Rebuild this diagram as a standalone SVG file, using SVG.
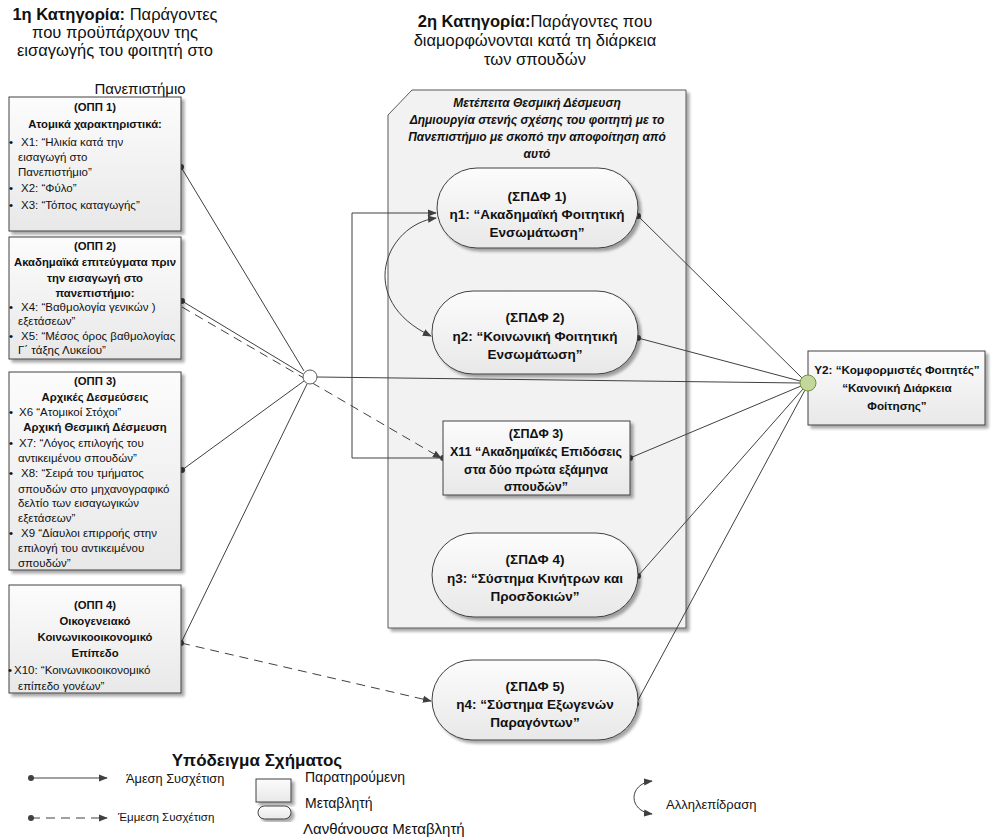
<svg xmlns="http://www.w3.org/2000/svg" width="992" height="838" viewBox="0 0 992 838">
<defs>
  <linearGradient id="nodeFill" x1="0" y1="0" x2="0" y2="1">
    <stop offset="0" stop-color="#fcfcfc"/>
    <stop offset="1" stop-color="#e8e8e8"/>
  </linearGradient>
  <filter id="shadow" x="-10%" y="-10%" width="130%" height="130%">
    <feGaussianBlur in="SourceAlpha" stdDeviation="1.5" result="blur"/>
    <feOffset in="blur" dx="2.5" dy="2.5" result="off"/>
    <feComponentTransfer in="off" result="sh"><feFuncA type="linear" slope="0.35"/></feComponentTransfer>
    <feMerge><feMergeNode in="sh"/><feMergeNode in="SourceGraphic"/></feMerge>
  </filter>
  <marker id="arrow" viewBox="0 0 10 10" refX="9" refY="5" markerWidth="9" markerHeight="9" markerUnits="userSpaceOnUse" orient="auto-start-reverse">
    <path d="M0,1 L10,5 L0,9 z" fill="#404040"/>
  </marker>
  <marker id="dot" viewBox="0 0 6 6" refX="3" refY="3" markerWidth="6" markerHeight="6" markerUnits="userSpaceOnUse">
    <circle cx="3" cy="3" r="3" fill="#404040"/>
  </marker>
  <style>
    .box{fill:url(#nodeFill);stroke:#404040;stroke-width:1;filter:url(#shadow)}
    .t{font-family:"Liberation Sans",Arial,sans-serif;fill:#111}
    .s11{font-size:11.5px}
    .s11 .b,.s11.b{font-size:11.3px}
    .s13{font-size:13.5px}
    .s16{font-size:16.5px}
    .b{font-weight:bold}
    .i{font-style:italic}
    .c{text-anchor:middle}
    .ln{stroke:#404040;stroke-width:1;fill:none}
    .dash{stroke-dasharray:9 6}
  </style>
</defs>

<!-- category headings -->
<g id="heading1" class="t s16">
  <text x="115" y="20" class="c"><tspan class="b">1η Κατηγορία:</tspan> Παράγοντες</text>
  <text x="115" y="38" class="c">που προϋπάρχουν της</text>
  <text x="115" y="56" class="c">εισαγωγής του φοιτητή στο</text>
  <text x="140" y="94" class="c" style="font-size:15px">Πανεπιστήμιο</text>
</g>
<g id="heading2" class="t s16">
  <text x="535" y="27" class="c"><tspan class="b">2η Κατηγορία:</tspan>Παράγοντες που</text>
  <text x="535" y="46" class="c">διαμορφώνονται κατά τη διάρκεια</text>
  <text x="535" y="65" class="c">των σπουδών</text>
</g>

<!-- container for the second category -->
<g id="container">
  <polygon points="412,90 686,90 686,628 388,628 388,115" fill="#f2f2f2" stroke="#595959" stroke-width="1" filter="url(#shadow)"/>
  <g class="t b i c" style="font-size:12px">
    <text x="537" y="107">Μετέπειτα Θεσμική Δέσμευση</text>
    <text x="537" y="124">Δημιουργία στενής σχέσης του φοιτητή με το</text>
    <text x="537" y="141">Πανεπιστήμιο με σκοπό την αποφοίτηση από</text>
    <text x="537" y="158">αυτό</text>
  </g>
</g>

<!-- connectors -->
<g id="connectors">
  <line class="ln" x1="181" y1="167" x2="304" y2="371" marker-start="url(#dot)"/>
  <line class="ln" x1="182" y1="301" x2="303" y2="374" marker-start="url(#dot)"/>
  <line class="ln dash" x1="182" y1="307" x2="441" y2="458" marker-end="url(#arrow)"/>
  <line class="ln" x1="182" y1="470" x2="304" y2="381" marker-start="url(#dot)"/>
  <line class="ln" x1="181" y1="643" x2="307" y2="384" marker-start="url(#dot)"/>
  <line class="ln dash" x1="181" y1="643" x2="431" y2="701" marker-end="url(#arrow)"/>
  <line class="ln" x1="317" y1="377" x2="800" y2="383"/>
  <polyline class="ln" points="443,458 352,458 352,213 436,213" marker-start="url(#dot)" marker-end="url(#arrow)"/>
  <path class="ln" d="M436,218 C385,225 355,300 431,336" marker-start="url(#arrow)" marker-end="url(#arrow)"/>
  <line class="ln" x1="638" y1="216" x2="802" y2="378" marker-start="url(#dot)"/>
  <line class="ln" x1="638" y1="338" x2="800" y2="381" marker-start="url(#dot)"/>
  <line class="ln" x1="630" y1="458" x2="801" y2="386" marker-start="url(#dot)"/>
  <line class="ln" x1="638" y1="576" x2="803" y2="389" marker-start="url(#dot)"/>
  <line class="ln" x1="636" y1="704" x2="805" y2="390" marker-start="url(#dot)"/>
</g>

<!-- hub of the pre-entry factors -->
<g id="hub">
  <circle cx="310" cy="377" r="7" fill="#ffffff" stroke="#595959" stroke-width="1"/>
</g>

<!-- pre-entry factors -->
<g id="opp1" class="t s11">
  <rect class="box" x="9" y="97" width="172" height="134"/>
  <text x="95" y="111" class="c b">(ΟΠΠ 1)</text>
  <text x="95" y="128" class="c b">Ατομικά χαρακτηριστικά:</text>
  <text x="9" y="146">•</text><text x="21" y="146">X1: “Ηλικία κατά την</text>
  <text x="18" y="161">εισαγωγή στο</text>
  <text x="18" y="176">Πανεπιστήμιο”</text>
  <text x="9" y="192">•</text><text x="21" y="192">X2: “Φύλο”</text>
  <text x="9" y="209">•</text><text x="21" y="209">X3: “Τόπος καταγωγής”</text>
</g>

<g id="opp2" class="t s11">
  <rect class="box" x="9" y="237" width="172" height="122"/>
  <text x="95" y="250" class="c b">(ΟΠΠ 2)</text>
  <text x="95" y="266" class="c b">Ακαδημαϊκά επιτεύγματα πριν</text>
  <text x="95" y="282" class="c b">την εισαγωγή στο</text>
  <text x="95" y="297" class="c b">πανεπιστήμιο:</text>
  <text x="9" y="311">•</text><text x="21" y="311">X4: “Βαθμολογία γενικών )</text>
  <text x="18" y="325">εξετάσεων”</text>
  <text x="9" y="340">•</text><text x="21" y="340">X5: “Μέσος όρος βαθμολογίας</text>
  <text x="18" y="354">Γ΄ τάξης Λυκείου”</text>
</g>

<g id="opp3" class="t s11">
  <rect class="box" x="9" y="372" width="172" height="198"/>
  <text x="95" y="385" class="c b">(ΟΠΠ 3)</text>
  <text x="95" y="401" class="c b">Αρχικές Δεσμεύσεις</text>
  <text x="9" y="416">•</text><text x="19" y="416">X6 “Ατομικοί Στόχοι”</text>
  <text x="95" y="431" class="c b">Αρχική Θεσμική Δέσμευση</text>
  <text x="9" y="447">•</text><text x="19" y="447">X7: “Λόγος επιλογής του</text>
  <text x="18" y="462">αντικειμένου σπουδών”</text>
  <text x="9" y="477">•</text><text x="21" y="477">X8: “Σειρά του τμήματος</text>
  <text x="18" y="493">σπουδών στο μηχανογραφικό</text>
  <text x="18" y="507">δελτίο των εισαγωγικών</text>
  <text x="18" y="522">εξετάσεων”</text>
  <text x="9" y="537">•</text><text x="21" y="537">X9 “Δίαυλοι επιρροής στην</text>
  <text x="18" y="552">επιλογή του αντικειμένου</text>
  <text x="18" y="567">σπουδών”</text>
</g>

<g id="opp4" class="t s11">
  <rect class="box" x="9" y="585" width="172" height="108"/>
  <text x="95" y="609" class="c b">(ΟΠΠ 4)</text>
  <text x="95" y="625" class="c b">Οικογενειακό</text>
  <text x="95" y="641" class="c b">Κοινωνικοοικονομικό</text>
  <text x="95" y="657" class="c b">Επίπεδο</text>
  <text x="8" y="674">•</text><text x="14" y="674">X10: “Κοινωνικοοικονομικό</text>
  <text x="18" y="690">επίπεδο γονέων”</text>
</g>

<!-- factors formed during the studies -->
<g id="spdf1" class="t s13 b c">
  <rect class="box" x="437" y="168" width="201" height="80" rx="40" ry="40"/>
  <text x="537" y="201">(ΣΠΔΦ 1)</text>
  <text x="537" y="219">η1: “Ακαδημαϊκή Φοιτητική</text>
  <text x="537" y="237">Ενσωμάτωση”</text>
</g>
<g id="spdf2" class="t s13 b c">
  <rect class="box" x="432" y="291" width="206" height="83" rx="41" ry="41"/>
  <text x="535" y="322">(ΣΠΔΦ 2)</text>
  <text x="535" y="341">η2: “Κοινωνική Φοιτητική</text>
  <text x="535" y="359">Ενσωμάτωση”</text>
</g>
<g id="spdf3" class="t b c" style="font-size:12.5px">
  <rect class="box" x="443" y="421" width="187" height="74"/>
  <text x="536" y="438">(ΣΠΔΦ 3)</text>
  <text x="536" y="456">X11 “Ακαδημαϊκές Επιδόσεις</text>
  <text x="536" y="474">στα δύο πρώτα εξάμηνα</text>
  <text x="536" y="491">σπουδών”</text>
</g>
<g id="spdf4" class="t s13 b c">
  <rect class="box" x="432" y="533" width="206" height="84" rx="42" ry="42"/>
  <text x="535" y="564">(ΣΠΔΦ 4)</text>
  <text x="535" y="583">η3: “Σύστημα Κινήτρων και</text>
  <text x="535" y="601">Προσδοκιών”</text>
</g>
<g id="spdf5" class="t s13 b c">
  <rect class="box" x="432" y="660" width="206" height="80" rx="40" ry="40"/>
  <text x="535" y="691">(ΣΠΔΦ 5)</text>
  <text x="535" y="709">η4: “Σύστημα Εξωγενών</text>
  <text x="535" y="727">Παραγόντων”</text>
</g>

<!-- outcome -->
<g id="y2" class="t b c" style="font-size:11.7px">
  <rect class="box" x="808" y="351" width="177" height="74"/>
  <text x="897" y="374">Y2: “Κομφορμιστές Φοιτητές”</text>
  <text x="897" y="392">“Κανονική Διάρκεια</text>
  <text x="897" y="410">Φοίτησης”</text>
  <circle cx="808" cy="383" r="8" fill="#c3d69b" stroke="#76923c" stroke-width="1"/>
</g>

<!-- legend -->
<g id="legend" class="t">
  <text x="257" y="766" class="c b" style="font-size:17px">Υπόδειγμα Σχήματος</text>
  <line class="ln" x1="31" y1="778" x2="107" y2="778" marker-start="url(#dot)" marker-end="url(#arrow)"/>
  <text x="126" y="783" style="font-size:12.8px">Άμεση Συσχέτιση</text>
  <line class="ln dash" x1="31" y1="818" x2="107" y2="818" marker-start="url(#dot)" marker-end="url(#arrow)"/>
  <text x="118" y="821" style="font-size:11.5px">Έμμεση Συσχέτιση</text>
  <rect class="box" x="256" y="779" width="35" height="23"/>
  <text x="305" y="782" style="font-size:14px">Παρατηρούμενη</text>
  <text x="305" y="808" style="font-size:14px">Μεταβλητή</text>
  <rect class="box" x="258" y="806" width="33" height="13" rx="6.5" ry="6.5"/>
  <text x="303" y="834" style="font-size:15px">Λανθάνουσα Μεταβλητή</text>
  <path class="ln" d="M652,781 C628,784 628,811 652,814" marker-start="url(#arrow)" marker-end="url(#arrow)"/>
  <text x="666" y="809" style="font-size:13px">Αλληλεπίδραση</text>
</g>
</svg>
